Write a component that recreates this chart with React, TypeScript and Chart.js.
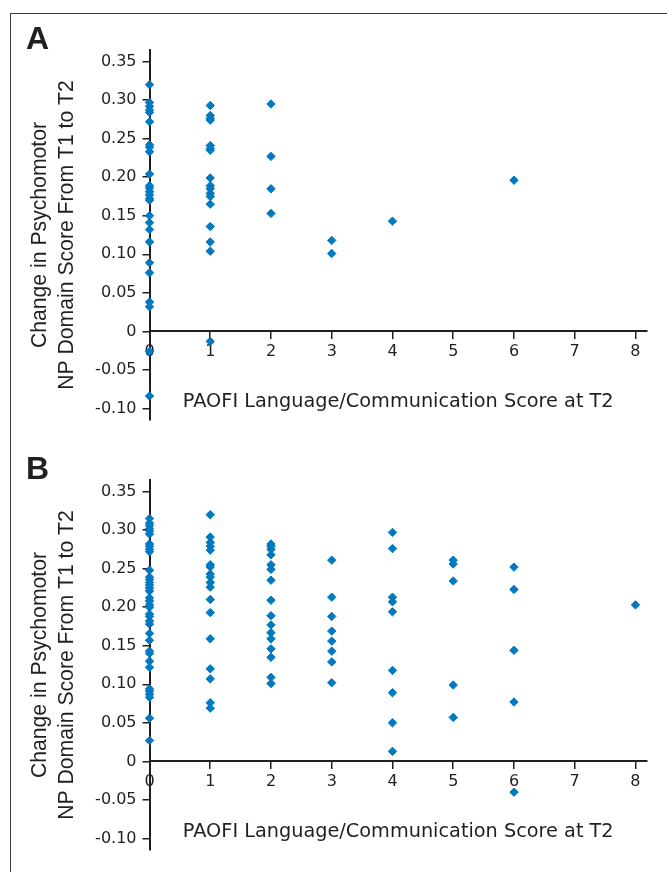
import React, { useEffect, useRef } from 'react';
import { Chart, registerables } from 'chart.js';

Chart.register(...registerables);

// ---- tick values ----
const xTicks = [0, 1, 2, 3, 4, 5, 6, 7, 8];
const yTicks = [-0.1, -0.05, 0, 0.05, 0.1, 0.15, 0.2, 0.25, 0.3, 0.35];

// ---- Panel A: change in score by PAOFI score (x) ----
const a0 = [0.32, 0.297, 0.292, 0.287, 0.284, 0.272, 0.242, 0.239, 0.233, 0.204, 0.189, 0.186, 0.181, 0.177, 0.172, 0.17, 0.15, 0.141, 0.132, 0.116, 0.089, 0.076, 0.038, 0.032, -0.026, -0.084];
const a1 = [0.293, 0.28, 0.276, 0.274, 0.241, 0.237, 0.235, 0.199, 0.189, 0.185, 0.179, 0.175, 0.165, 0.136, 0.116, 0.104, -0.013];
const a2 = [0.295, 0.227, 0.185, 0.153];
const a3 = [0.118, 0.101];
const a4 = [0.143];
const a6 = [0.196];

// ---- Panel B ----
const b0 = [0.315, 0.309, 0.306, 0.302, 0.299, 0.295, 0.282, 0.279, 0.275, 0.272, 0.248, 0.239, 0.236, 0.232, 0.229, 0.225, 0.221, 0.212, 0.208, 0.203, 0.2, 0.191, 0.188, 0.182, 0.178, 0.166, 0.157, 0.143, 0.14, 0.13, 0.122, 0.094, 0.091, 0.087, 0.083, 0.056, 0.027];
const b1 = [0.32, 0.291, 0.284, 0.279, 0.274, 0.255, 0.252, 0.243, 0.239, 0.232, 0.226, 0.21, 0.193, 0.159, 0.12, 0.107, 0.076, 0.069];
const b2 = [0.282, 0.279, 0.275, 0.268, 0.255, 0.249, 0.235, 0.209, 0.189, 0.177, 0.167, 0.159, 0.146, 0.135, 0.109, 0.101];
const b3 = [0.261, 0.213, 0.188, 0.169, 0.156, 0.143, 0.129, 0.102];
const b4 = [0.297, 0.276, 0.213, 0.207, 0.194, 0.118, 0.089, 0.05, 0.013];
const b5 = [0.261, 0.256, 0.234, 0.099, 0.057];
const b6 = [0.252, 0.223, 0.144, 0.077, -0.04];
const b8 = [0.203];

const panelA: [number, number[]][] = [[0, a0], [1, a1], [2, a2], [3, a3], [4, a4], [6, a6]];
const panelB: [number, number[]][] = [[0, b0], [1, b1], [2, b2], [3, b3], [4, b4], [5, b5], [6, b6], [8, b8]];

const xTitle = 'PAOFI Language/Communication Score at T2';
const yTitle = ['Change in Psychomotor', 'NP Domain Score From T1 to T2'];

const BLUE = '#0079c1';
const TEXT = '#231f20';
const AXIS = '#231f20';

function makeConfig(groups: [number, number[]][], letter: string): any {
  const points = groups.flatMap(([x, ys]) => ys.map((y) => ({ x, y })));
  return {
    type: 'scatter',
    data: {
      datasets: [
        {
          data: points,
          pointStyle: 'rectRot',
          pointRadius: 4.2,
          pointBackgroundColor: BLUE,
          pointBorderColor: BLUE,
          pointBorderWidth: 1,
          showLine: false,
          clip: false,
        },
      ],
    },
    options: {
      animation: false,
      responsive: false,
      devicePixelRatio: 1,
      layout: { padding: { left: 26, right: 20, top: 30.4, bottom: 16 } },
      plugins: {
        legend: { display: false },
        tooltip: { enabled: false },
        title: {
          display: true,
          text: letter,
          align: 'start',
          color: TEXT,
          font: { family: "'Liberation Sans', Arial, sans-serif", size: 32, weight: 'bold', lineHeight: 0.6 },
          padding: { top: 0, bottom: 0.4 },
        },
      },
      scales: {
        x: {
          type: 'linear',
          min: 0,
          max: 8.19,
          position: { y: 0 },
          afterBuildTicks: (s: any) => {
            s.ticks = xTicks.map((v) => ({ value: v }));
          },
          grid: { display: true, drawOnChartArea: false, drawTicks: true, tickLength: 7, tickColor: AXIS, tickWidth: 1.5, lineWidth: 1.5, color: AXIS },
          border: { display: true, color: AXIS, width: 2 },
          ticks: {
            color: TEXT,
            font: { family: "'DejaVu Sans', sans-serif", size: 16 },
            padding: 4,
            autoSkip: false,
            maxRotation: 0,
            callback: (v: number) => String(v),
          },
          title: {
            display: true,
            text: xTitle,
            color: TEXT,
            font: { family: "'DejaVu Sans', sans-serif", size: 19.3 },
            padding: { top: 25, bottom: 0 },
          },
        },
        y: {
          type: 'linear',
          min: -0.115,
          max: 0.365,
          position: 'left',
          afterBuildTicks: (s: any) => {
            s.ticks = yTicks.map((v) => ({ value: v }));
          },
          afterFit: (s: any) => {
            s.width = 123.5;
          },
          grid: { display: true, drawOnChartArea: false, drawTicks: true, tickLength: 7, tickColor: AXIS, tickWidth: 1.5, lineWidth: 1.5, color: AXIS },
          border: { display: true, color: AXIS, width: 2 },
          ticks: {
            color: TEXT,
            font: { family: "'DejaVu Sans', sans-serif", size: 16 },
            padding: 6,
            autoSkip: false,
            callback: (v: number) => (Math.abs(v) < 1e-9 ? '0' : v.toFixed(2)),
          },
          title: {
            display: true,
            text: yTitle,
            color: TEXT,
            font: { family: "'Liberation Sans', Arial, sans-serif", size: 21.2, lineHeight: 1.3 },
            padding: { top: 0, bottom: 0 },
          },
        },
      },
    },
  };
}

function Panel({ groups, letter, top }: { groups: [number, number[]][]; letter: string; top: number }) {
  const ref = useRef<HTMLCanvasElement | null>(null);
  useEffect(() => {
    if (!ref.current) return;
    const chart = new Chart(ref.current, makeConfig(groups, letter));
    return () => chart.destroy();
  }, [groups, letter]);
  return (
    <canvas
      ref={ref}
      width={667}
      height={436}
      style={{ position: 'absolute', left: 0, top, width: 667, height: 436 }}
    />
  );
}

export default function App() {
  return (
    <div
      style={{
        position: 'absolute',
        left: 0,
        top: 0,
        width: 667,
        height: 872,
        overflow: 'hidden',
        background: '#ffffff',
      }}
    >
      <div
        style={{
          position: 'absolute',
          left: 10,
          top: 13,
          width: 720,
          height: 920,
          borderLeft: '1.5px solid #3a3a3a',
          borderTop: '1.5px solid #3a3a3a',
        }}
      />
      <Panel groups={panelA} letter="A" top={0} />
      <Panel groups={panelB} letter="B" top={430} />
    </div>
  );
}
